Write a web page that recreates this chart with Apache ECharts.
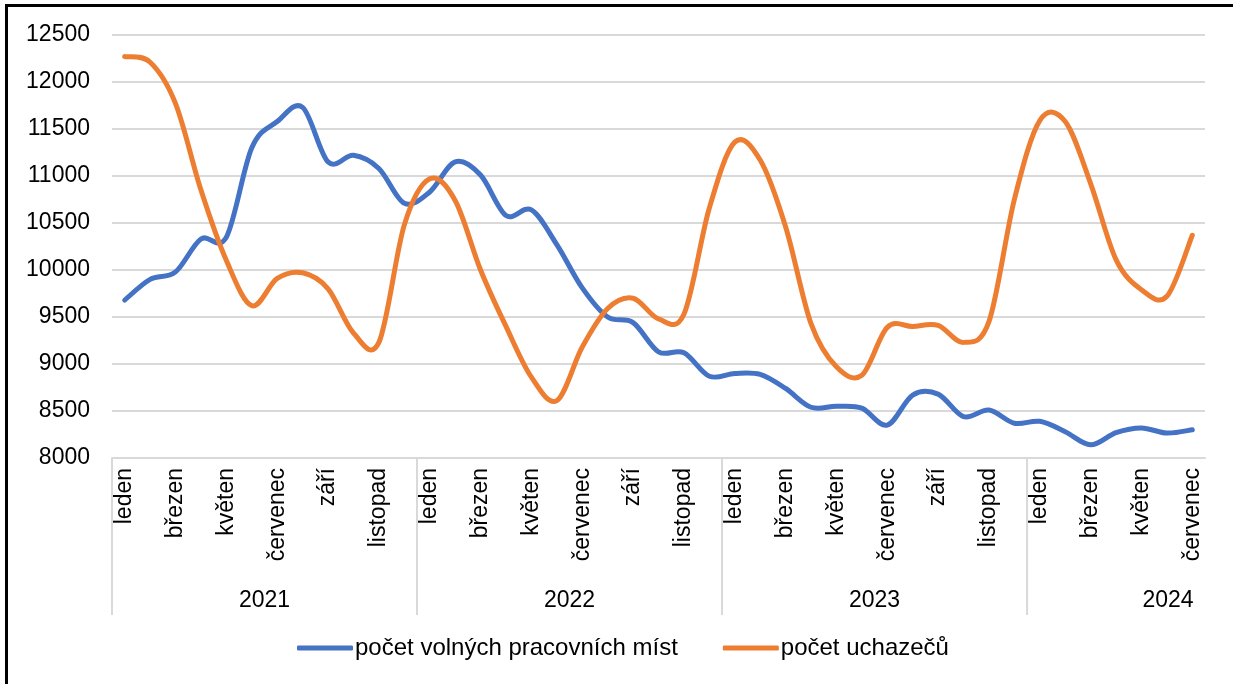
<!DOCTYPE html>
<html>
<head>
<meta charset="utf-8">
<script src="https://cdn.jsdelivr.net/npm/echarts@6/dist/echarts.min.js"></script>
<style>
html,body{margin:0;padding:0;background:#fff;}
#chart{width:1233px;height:684px;}
</style>
</head>
<body>
<div id="chart"></div>
<script>
// ---- data ----
const monthNames = ['leden','únor','březen','duben','květen','červen','červenec','srpen','září','říjen','listopad','prosinec'];
const years = ['2021','2022','2023','2024'];
const monthsInYear = [12, 12, 12, 7];
const seriesNames = ['počet volných pracovních míst', 'počet uchazečů'];
const vacancies = [
  9680, 9900, 9980, 10330, 10350, 11300, 11580, 11730, 11150, 11220, 11080, 10710,
  10830, 11150, 11010, 10580, 10640, 10270, 9810, 9500, 9440, 9130, 9120, 8870,
  8900, 8890, 8740, 8540, 8550, 8530, 8350, 8670, 8680, 8440, 8510, 8370,
  8390, 8280, 8140, 8270, 8320, 8265, 8300
];
const applicants = [
  12270, 12210, 11770, 10850, 10100, 9620, 9910, 9970, 9800, 9330, 9230, 10480,
  10970, 10740, 10000, 9400, 8860, 8610, 9180, 9590, 9700, 9480, 9530, 10660,
  11360, 11170, 10460, 9430, 8970, 8880, 9390, 9400, 9410, 9230, 9450, 10750,
  11590, 11580, 10920, 10110, 9790, 9720, 10370
];
const yTicks = {min: 8000, max: 12500, interval: 500};
const colors = ['#4472C4', '#ED7D31'];

// ---- build categories ----
const categories = [];
const groupStart = [];
years.forEach((y, yi) => {
  groupStart.push(categories.length);
  for (let m = 0; m < monthsInYear[yi]; m++) categories.push(y + '|' + monthNames[m]);
});

const FONT = "'Liberation Sans', Arial, sans-serif";
const GRID = {left: 112, right: 28, top: 35, bottom: 226};

// smooth (Catmull-Rom style) line drawn through the data via the axis scales
function smoothSeries(values, color, name) {
  return {
    name: name,
    type: 'custom',
    coordinateSystem: 'cartesian2d',
    data: values.map((v, i) => [i, v]),
    itemStyle: {color: color},
    renderItem: function (params, api) {
      if (params.dataIndex !== 0) return null;
      const pts = values.map((v, i) => api.coord([i, v]));
      const n = pts.length;
      const k = 1 / 6;
      let d = 'M' + pts[0][0] + ',' + pts[0][1];
      for (let i = 0; i < n - 1; i++) {
        const p0 = pts[Math.max(i - 1, 0)], p1 = pts[i], p2 = pts[i + 1], p3 = pts[Math.min(i + 2, n - 1)];
        const c1x = p1[0] + (p2[0] - p0[0]) * k, c1y = p1[1] + (p2[1] - p0[1]) * k;
        const c2x = p2[0] - (p3[0] - p1[0]) * k, c2y = p2[1] - (p3[1] - p1[1]) * k;
        d += ' C' + c1x + ',' + c1y + ' ' + c2x + ',' + c2y + ' ' + p2[0] + ',' + p2[1];
      }
      return {
        type: 'path',
        shape: {pathData: d},
        style: {fill: 'none', stroke: color, lineWidth: 5, lineCap: 'round', lineJoin: 'round'}
      };
    }
  };
}

const chart = echarts.init(document.getElementById('chart'), null, {renderer: 'canvas'});
chart.setOption({
  animation: false,
  backgroundColor: '#fff',
  textStyle: {fontFamily: FONT},
  grid: GRID,
  legend: {
    data: seriesNames,
    left: 297,
    top: 636,
    padding: 0,
    itemGap: 45,
    itemWidth: 56,
    itemHeight: 5,
    icon: 'roundRect',
    textStyle: {fontSize: 24, color: '#000', fontFamily: FONT, padding: [0, 0, 0, -3]}
  },
  xAxis: {
    type: 'category',
    data: categories,
    boundaryGap: true,
    axisLine: {lineStyle: {color: '#d9d9d9', width: 2}},
    axisTick: {show: false},
    axisLabel: {
      interval: 1,
      rotate: 90,
      margin: 10,
      fontSize: 23,
      color: '#000',
      fontFamily: FONT,
      formatter: v => v.split('|')[1]
    }
  },
  yAxis: {
    type: 'value',
    min: yTicks.min,
    max: yTicks.max,
    interval: yTicks.interval,
    axisLine: {show: false},
    axisTick: {show: false},
    splitLine: {lineStyle: {color: '#d9d9d9', width: 2}},
    axisLabel: {fontSize: 23, color: '#000', margin: 22, fontFamily: FONT, formatter: v => String(v)}
  },
  series: [
    smoothSeries(vacancies, colors[0], seriesNames[0]),
    smoothSeries(applicants, colors[1], seriesNames[1])
  ]
});

// year group separators and labels, positioned through the axis scale
const px0 = chart.convertToPixel({xAxisIndex: 0}, 0);
const px1 = chart.convertToPixel({xAxisIndex: 0}, 1);
const band = px1 - px0;
const axisY = chart.convertToPixel({yAxisIndex: 0}, yTicks.min);
const plotRight = 1233 - GRID.right;
const graphics = [
  {type: 'rect', left: 5, top: 4, shape: {width: 3, height: 700}, style: {fill: '#000'}, z: 10},
  {type: 'rect', left: 5, top: 4, shape: {width: 1240, height: 3}, style: {fill: '#000'}, z: 10}
];
years.forEach((y, yi) => {
  const left = chart.convertToPixel({xAxisIndex: 0}, groupStart[yi]) - band / 2;
  graphics.push({
    type: 'line', shape: {x1: left, y1: axisY, x2: left, y2: axisY + 157},
    style: {stroke: '#d9d9d9', lineWidth: 2}, z: 5
  });
  const cx = Math.min(left + 6 * band, plotRight - 37);
  graphics.push({
    type: 'text', x: cx, y: axisY + 143,
    style: {text: y, fontSize: 23, fill: '#000', font: '23px ' + FONT, textAlign: 'center', textVerticalAlign: 'middle'},
    z: 5
  });
});
chart.setOption({graphic: graphics});
</script>
</body>
</html>
